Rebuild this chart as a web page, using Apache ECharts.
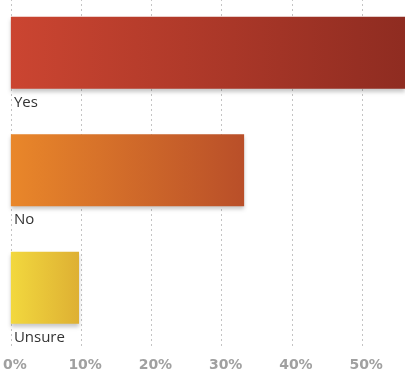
<!DOCTYPE html>
<html>
<head>
<meta charset="utf-8">
<script src="https://cdn.jsdelivr.net/npm/echarts@6/dist/echarts.min.js"></script>
<style>
  html, body { margin: 0; padding: 0; background: #fff; overflow: hidden; }
  /* the top of the plot sits a little above the picture's edge */
  #chart { width: 405px; height: 379px; margin-top: -6px; }
</style>
</head>
<body>
<div id="chart"></div>
<script>
// answers, top to bottom
var categories = ['Yes', 'No', 'Unsure'];
var percents = [57, 33.2, 9.7];
var tickValues = [0, 10, 20, 30, 40, 50];

// left / right ends of each bar's gradient
var barColors = [
    ['#cb4531', '#8f2c21'],
    ['#e9872a', '#b94f29'],
    ['#f2d83e', '#deb033']
];

function gradient(pair) {
    return new echarts.graphic.LinearGradient(0, 0, 1, 0, [
        { offset: 0, color: pair[0] },
        { offset: 1, color: pair[1] }
    ]);
}

var chart = echarts.init(document.getElementById('chart'), null, { renderer: 'canvas' });

chart.setOption({
    animation: false,
    grid: {
        left: 8.5,
        right: 0,
        top: 0,
        bottom: 26.5,
        containLabel: false
    },
    xAxis: {
        type: 'value',
        min: 0,
        max: 56.1,
        interval: 10,
        axisLine: { show: false },
        axisTick: { show: false },
        splitLine: {
            show: true,
            lineStyle: { type: [2, 3], color: '#c4c4c4', width: 1 }
        },
        axisLabel: {
            margin: 12,
            padding: [0, 0, 0, 8],
            color: '#a0a0a0',
            fontFamily: 'DejaVu Sans',
            fontWeight: 'bold',
            fontSize: 14,
            showMaxLabel: false,
            formatter: function (v) {
                return tickValues.indexOf(v) >= 0 ? v + '%' : '';
            }
        }
    },
    yAxis: {
        type: 'category',
        inverse: true,
        data: categories,
        axisLine: { show: false },
        axisTick: { show: false },
        axisLabel: { show: false }
    },
    series: [{
        type: 'bar',
        barWidth: 72,
        clip: true,
        data: percents.map(function (v, i) {
            return {
                value: v,
                itemStyle: {
                    color: gradient(barColors[i]),
                    shadowColor: 'rgba(0,0,0,0.22)',
                    shadowBlur: 4,
                    shadowOffsetY: 3
                }
            };
        }),
        label: {
            show: true,
            position: [3, '100%'],
            padding: [6, 0, 0, 0],
            align: 'left',
            verticalAlign: 'top',
            formatter: '{b}',
            color: '#333',
            fontFamily: 'Open Sans',
            fontSize: 15
        }
    }]
});
</script>
</body>
</html>
